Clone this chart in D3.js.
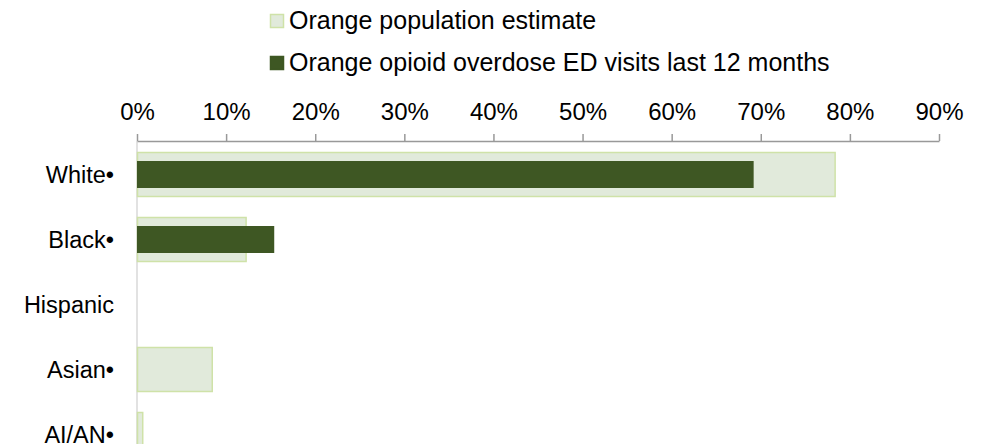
<!DOCTYPE html>
<html><head><meta charset="utf-8">
<script src="https://cdn.jsdelivr.net/npm/d3@7"></script>
<style>body{margin:0;background:#fff;} text{font-family:"Liberation Sans",Arial,sans-serif;}</style>
</head><body>
<svg id="c" width="983" height="444"></svg>
<script>
const categories = ["White•","Black•","Hispanic","Asian•","AI/AN•"];
const popEstimate = [0.784, 0.123, null, 0.085, 0.007];
const edVisits = [0.692, 0.154, null, null, null];
const tickValues = [0,0.1,0.2,0.3,0.4,0.5,0.6,0.7,0.8,0.9];
const seriesNames = ["Orange population estimate","Orange opioid overdose ED visits last 12 months"];

const svg = d3.select("#c");
const x = d3.scaleLinear().domain([0,0.9]).range([137,939]);
const y = d3.scaleBand().domain(categories).range([142,467]).paddingInner(20/65).paddingOuter(10/65);
const popColor = "#e1eadb", popStroke = "#cfe2a8", edColor = "#3e5723";

// y axis line
svg.append("line").attr("x1",x(0)).attr("x2",x(0)).attr("y1",141).attr("y2",444)
  .attr("stroke","#d9d9d9").attr("stroke-width",1.5);

const rows = categories.map((c,i)=>({c, pop:popEstimate[i], ed:edVisits[i]}));

svg.append("g").selectAll("rect").data(rows.filter(d=>d.pop!=null)).join("rect")
  .attr("x",x(0)+0.5).attr("y",d=>y(d.c)+0.5)
  .attr("width",d=>x(d.pop)-x(0)-1).attr("height",y.bandwidth()-1)
  .attr("fill",popColor).attr("stroke",popStroke).attr("stroke-width",1.5);

const edH = 27;
svg.append("g").selectAll("rect").data(rows.filter(d=>d.ed!=null)).join("rect")
  .attr("x",x(0)).attr("y",d=>y(d.c)+(y.bandwidth()-edH)/2)
  .attr("width",d=>x(d.ed)-x(0)).attr("height",edH)
  .attr("fill",edColor);

// top axis
const ax = svg.append("g").attr("transform","translate(0,141)")
  .call(d3.axisTop(x).tickValues(tickValues).tickFormat(d3.format(".0%")).tickSize(7).tickSizeOuter(0).tickPadding(14));
ax.select(".domain").attr("stroke","#999").attr("stroke-width",1.5);
ax.selectAll(".tick line").attr("stroke","#999").attr("stroke-width",1.5);
ax.selectAll(".tick text").attr("font-size",24).attr("font-family","Liberation Sans, Arial, sans-serif").attr("fill","#000");

// category labels
svg.append("g").selectAll("text").data(categories).join("text")
  .attr("x",114).attr("y",d=>y(d)+y.bandwidth()/2).attr("dy","0.36em")
  .attr("text-anchor","end").attr("font-size",23.5).attr("fill","#000").text(d=>d);

// legend
const leg = svg.append("g");
const legY = [14,56];
seriesNames.forEach((n,i)=>{
  leg.append("rect").attr("x",270.5).attr("y",legY[i]+0.5).attr("width",13).attr("height",13)
    .attr("fill",i===0?popColor:edColor).attr("stroke",i===0?popStroke:edColor).attr("stroke-width",1.5);
  leg.append("text").attr("x",289).attr("y",legY[i]+15).attr("font-size",25).attr("fill","#000").text(n);
});
</script>
</body></html>
